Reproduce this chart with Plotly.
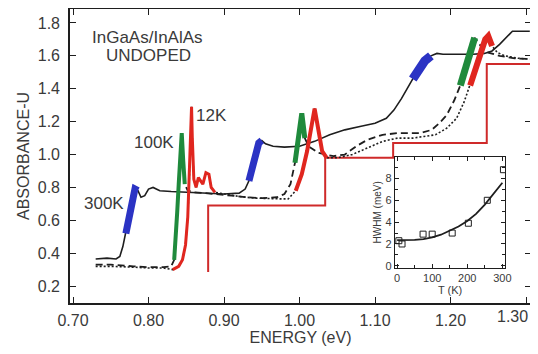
import plotly.graph_objects as go

# ---------------- data ----------------
E_300K = [0.730, 0.745, 0.757, 0.762, 0.766, 0.770, 0.774, 0.778, 0.782, 0.786, 0.790, 0.795,
          0.800, 0.806, 0.815, 0.830, 0.850, 0.870, 0.900, 0.920, 0.928, 0.933, 0.938, 0.942,
          0.946, 0.950, 0.955, 0.965, 0.980, 1.000, 1.020, 1.040, 1.060, 1.080, 1.100, 1.115,
          1.125, 1.135, 1.142, 1.150, 1.158, 1.166, 1.174, 1.182, 1.190, 1.210, 1.230, 1.245,
          1.255, 1.265, 1.275, 1.282, 1.305]
A_300K = [0.365, 0.370, 0.365, 0.380, 0.440, 0.520, 0.620, 0.720, 0.790, 0.780, 0.740, 0.750,
          0.790, 0.800, 0.780, 0.775, 0.770, 0.765, 0.760, 0.765, 0.790, 0.840, 0.930, 1.010,
          1.070, 1.085, 1.065, 1.050, 1.045, 1.050, 1.080, 1.120, 1.150, 1.170, 1.190, 1.220,
          1.270, 1.340, 1.400, 1.460, 1.520, 1.570, 1.600, 1.615, 1.610, 1.610, 1.610, 1.615,
          1.630, 1.670, 1.720, 1.750, 1.750]

E_100K = [0.730, 0.750, 0.780, 0.800, 0.820, 0.830, 0.834, 0.836, 0.838, 0.840, 0.842, 0.844,
          0.846, 0.848, 0.852, 0.860, 0.875, 0.890, 0.910, 0.930, 0.950, 0.970, 0.980, 0.988,
          0.994, 0.999, 1.003, 1.007, 1.012, 1.025, 1.045, 1.060, 1.075, 1.090, 1.110, 1.130,
          1.160, 1.175, 1.185, 1.195, 1.205, 1.213, 1.220, 1.226, 1.232, 1.240, 1.250, 1.265,
          1.285, 1.305]
A_100K = [0.330, 0.330, 0.320, 0.315, 0.315, 0.320, 0.360, 0.480, 0.650, 0.820, 0.980, 1.130,
          0.960, 0.820, 0.780, 0.770, 0.765, 0.760, 0.750, 0.740, 0.735, 0.740, 0.760, 0.820,
          0.950, 1.100, 1.250, 1.100, 1.050, 1.010, 0.990, 1.000, 1.050, 1.090, 1.120, 1.130,
          1.130, 1.150, 1.190, 1.240, 1.330, 1.420, 1.520, 1.620, 1.710, 1.660, 1.620, 1.600,
          1.585, 1.580]

E_12K = [0.730, 0.750, 0.780, 0.800, 0.820, 0.832, 0.840, 0.845, 0.849, 0.852, 0.854, 0.856,
         0.857, 0.858, 0.860, 0.863, 0.866, 0.869, 0.872, 0.876, 0.880, 0.883, 0.888, 0.900,
         0.920, 0.940, 0.960, 0.975, 0.985, 0.995, 1.003, 1.010, 1.016, 1.020, 1.025, 1.030,
         1.036, 1.050, 1.070, 1.090, 1.110, 1.130, 1.150, 1.165, 1.180, 1.195, 1.208, 1.218,
         1.226, 1.233, 1.240, 1.246, 1.250, 1.255, 1.262, 1.272, 1.290, 1.305]
A_12K = [0.320, 0.320, 0.315, 0.310, 0.310, 0.300, 0.320, 0.360, 0.450, 0.620, 0.850, 1.100,
         1.290, 1.100, 0.850, 0.800, 0.860, 0.840, 0.820, 0.890, 0.880, 0.800, 0.770, 0.760,
         0.745, 0.735, 0.730, 0.730, 0.730, 0.780, 0.880, 1.020, 1.180, 1.280, 1.150, 1.020,
         0.980, 0.980, 1.000, 1.040, 1.080, 1.100, 1.100, 1.110, 1.120, 1.160, 1.220, 1.320,
         1.420, 1.520, 1.620, 1.700, 1.720, 1.660, 1.620, 1.600, 1.585, 1.580]

# theoretical staircase (red)
E_STEP = [0.879, 0.879, 1.034, 1.124, 1.248, 1.310]
A_STEP = [0.285, 0.690, 0.980, 1.070, 1.550, 1.550]

# hand-coloured exciton peaks: energy windows on each curve
BLUE_WINDOWS = [(0.768, 0.786), (0.932, 0.951), (1.145, 1.178)]
GREEN_WINDOWS = [(0.834, 0.848), (0.994, 1.008), (1.210, 1.236)]
RED_WINDOWS = [(0.830, 0.888), (0.990, 1.036), (1.226, 1.258)]

# inset: HWHM vs temperature
T_PTS = [5, 14, 74, 100, 157, 203, 257, 303]
HWHM_PTS = [2.3, 2.0, 2.9, 2.9, 3.0, 3.9, 6.0, 8.8]
T_FIT = [0, 25, 50, 75, 100, 125, 150, 175, 200, 225, 250, 275, 300]
HWHM_FIT = [2.35, 2.35, 2.38, 2.45, 2.6, 2.85, 3.2, 3.6, 4.1, 4.75, 5.6, 6.6, 7.6]

X_TICKS = [0.70, 0.80, 0.90, 1.00, 1.10, 1.20, 1.30]
X_TICK_TEXT = ["0.70", "0.80", "0.90", "1.00", "1.10", "1.20", ""]
LAST_X_LABEL = "1.30"   # drawn separately so it is not cut at the page edge
Y_TICKS = [0.2, 0.4, 0.6, 0.8, 1.0, 1.2, 1.4, 1.6, 1.8]
Y_TICK_TEXT = ["0.2", "0.4", "0.6", "0.8", "1.0", "1.2", "1.4", "1.6", "1.8"]

BLUE = "#2b33c4"
GREEN = "#1f8a3c"
RED = "#e0261f"
STEP_RED = "#cf2a2a"
INK = "#1e1e1e"
TXT = "#3a3a3a"
FONT = "Liberation Sans, Arial, sans-serif"

fig = go.Figure()

# staircase
fig.add_trace(go.Scatter(x=E_STEP, y=A_STEP, mode="lines", line_shape="hv",
                         line=dict(color=STEP_RED, width=2), hoverinfo="skip"))

# measured curves
fig.add_trace(go.Scatter(x=E_300K, y=A_300K, mode="lines", line=dict(color=INK, width=1.6)))
fig.add_trace(go.Scatter(x=E_100K, y=A_100K, mode="lines",
                         line=dict(color=INK, width=1.8, dash="7px,4px")))
fig.add_trace(go.Scatter(x=E_12K, y=A_12K, mode="lines",
                         line=dict(color=INK, width=1.6, dash="2px,2px")))


def window(E, A, lo, hi):
    xs, ys = [], []
    for e, a in zip(E, A):
        if lo <= e <= hi:
            xs.append(e)
            ys.append(a)
    return xs, ys


for (lo, hi), w in zip(BLUE_WINDOWS, [7, 7, 9]):
    xs, ys = window(E_300K, A_300K, lo, hi)
    fig.add_trace(go.Scatter(x=xs, y=ys, mode="lines", line=dict(color=BLUE, width=w)))
for (lo, hi), w in zip(GREEN_WINDOWS, [4, 5, 7]):
    xs, ys = window(E_100K, A_100K, lo, hi)
    fig.add_trace(go.Scatter(x=xs, y=ys, mode="lines", line=dict(color=GREEN, width=w)))
for (lo, hi), w in zip(RED_WINDOWS, [3, 4, 6]):
    xs, ys = window(E_12K, A_12K, lo, hi)
    fig.add_trace(go.Scatter(x=xs, y=ys, mode="lines", line=dict(color=RED, width=w)))

# inset
fig.add_trace(go.Scatter(x=T_FIT, y=HWHM_FIT, mode="lines", xaxis="x2", yaxis="y2",
                         line=dict(color=INK, width=1.8)))
fig.add_trace(go.Scatter(x=T_PTS, y=HWHM_PTS, mode="markers", xaxis="x2", yaxis="y2",
                         marker=dict(symbol="square-open", size=6, color=INK,
                                     line=dict(width=1, color=INK))))

axis_common = dict(showline=True, linecolor=INK, linewidth=1.6, mirror="ticks",
                   ticks="inside", tickcolor=INK, showgrid=False, zeroline=False,
                   automargin=False)

# the page body adds an 8 px offset, so the figure is drawn 8 px smaller
fig.update_layout(
    template="none",
    width=530, height=346,
    margin=dict(l=62, r=7, t=1, b=51),
    paper_bgcolor="white", plot_bgcolor="white",
    showlegend=False,
    font=dict(family=FONT, color=TXT),
    xaxis=dict(range=[0.696, 1.3066], tickvals=X_TICKS, ticktext=X_TICK_TEXT,
               ticklen=6, tickwidth=1.4, tickfont=dict(size=16, color=TXT),
               ticklabelstandoff=2,
               title=dict(text="ENERGY (eV)", font=dict(size=16, color=TXT), standoff=2),
               **axis_common),
    yaxis=dict(range=[0.097, 1.885], tickvals=Y_TICKS, ticktext=Y_TICK_TEXT,
               ticklen=6, tickwidth=1.4, tickfont=dict(size=16, color=TXT),
               ticklabelstandoff=5,
               title=dict(text="ABSORBANCE-U", font=dict(size=16, color=TXT), standoff=4),
               **axis_common),
    xaxis2=dict(domain=[0.705, 0.944], anchor="y2", range=[-6, 308],
                tickvals=[0, 100, 200, 300], ticktext=["0", "100", "200", "300"],
                ticklen=4, tickwidth=1, tickfont=dict(size=11, color=TXT),
                minor=dict(dtick=50, ticklen=3, ticks="inside", tickcolor=INK),
                title=dict(text="T (K)", font=dict(size=11, color=TXT), standoff=0),
                **{**axis_common, "linewidth": 1.2}),
    yaxis2=dict(domain=[0.119, 0.498], anchor="x2", range=[-0.2, 10],
                tickvals=[0, 2, 4, 6, 8], ticktext=["0", "2", "4", "6", "8"],
                ticklen=4, tickwidth=1, tickfont=dict(size=11, color=TXT),
                minor=dict(dtick=1, ticklen=3, ticks="inside", tickcolor=INK),
                title=dict(text="HWHM (meV)", font=dict(size=10, color=TXT), standoff=2),
                **{**axis_common, "linewidth": 1.2}),
)

fig.add_annotation(x=X_TICKS[-1], y=0, xref="x", yref="paper", text=LAST_X_LABEL,
                   showarrow=False, xanchor="right", yanchor="top", xshift=4, yshift=-3,
                   font=dict(family=FONT, size=16, color=TXT))

label_font = dict(family=FONT, size=17, color=TXT)
for txt, x, y in [("InGaAs/InAlAs", 0.799, 1.709), ("UNDOPED", 0.800, 1.600),
                  ("100K", 0.807, 1.073), ("12K", 0.884, 1.236), ("300K", 0.741, 0.703)]:
    fig.add_annotation(x=x, y=y, xref="x", yref="y", text=txt, showarrow=False,
                       font=label_font)

fig.write_html("out.html")
